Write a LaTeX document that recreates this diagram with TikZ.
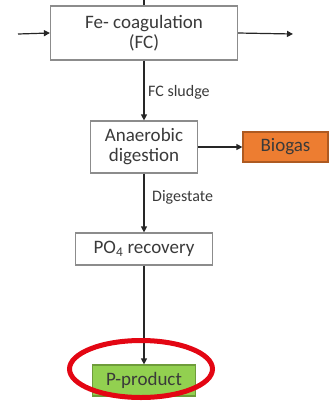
\documentclass[tikz,border=0pt]{standalone}
\usepackage{fontspec}
\setmainfont{Carlito}
\usetikzlibrary{arrows.meta,shapes.geometric}
\definecolor{boxgray}{HTML}{8C8C8C}
\definecolor{txt}{HTML}{3A3A3A}
\definecolor{biofill}{HTML}{ED7D31}
\definecolor{bioline}{HTML}{AE5A21}
\definecolor{pfill}{HTML}{92D050}
\definecolor{pline}{HTML}{6E9C3A}
\definecolor{ringred}{HTML}{E30613}
\begin{document}
\begin{tikzpicture}[x=1pt,y=-1pt,
  box/.style={draw=boxgray, line width=1.2pt, fill=white, inner sep=0pt,
    font=\fontsize{19}{20}\selectfont, text=txt, align=center},
  lbl/.style={font=\fontsize{16}{18}\selectfont, text=txt, anchor=west, inner sep=0pt},
  flow/.style={-{Triangle[length=6pt,width=6pt]}, line width=1.2pt, draw=black!85}]
\useasboundingbox (0,0) rectangle (329,402);

% process boxes
\node[box, minimum width=187, minimum height=54] (fc) at (144,33) {Fe- coagulation\\(FC)};
\node[box, minimum width=107, minimum height=52] (ad) at (144,147) {Anaerobic\\digestion};
\node[box, minimum width=85, minimum height=30, fill=biofill, draw=bioline] (bio) at (285.5,147) {Biogas};
\node[box, minimum width=137, minimum height=32] (po4) at (144,249) {PO\textsubscript{4} recovery};
\node[box, minimum width=103, minimum height=31, fill=pfill, draw=pline] (pp) at (144,380.5) {P-product};

% free ends of the main stream
\coordinate (in) at (18,34);
\coordinate (out) at (293,34);
\coordinate (top) at (144,0);

% connectors
\draw[flow] (in) -- (fc.west);
\draw[flow] (fc.east) -- (out);
\draw[line width=1.2pt, black!85] (fc.north) -- (top);
\draw[flow] (fc.south) -- (ad.north);
\draw[flow] (ad.east) -- (bio.west);
\draw[flow] (ad.south) -- (po4.north);
\draw[flow] (po4.south) -- (pp.north);

% stream labels
\node[lbl] (lsludge) at (148,92) {FC sludge};
\node[lbl] (ldig) at (152,197) {Digestate};

% highlight round the product
\node[draw=ringred, line width=5pt, ellipse, minimum width=143, minimum height=57, inner sep=0pt] (ring) at (141,369) {};
\end{tikzpicture}
\end{document}
